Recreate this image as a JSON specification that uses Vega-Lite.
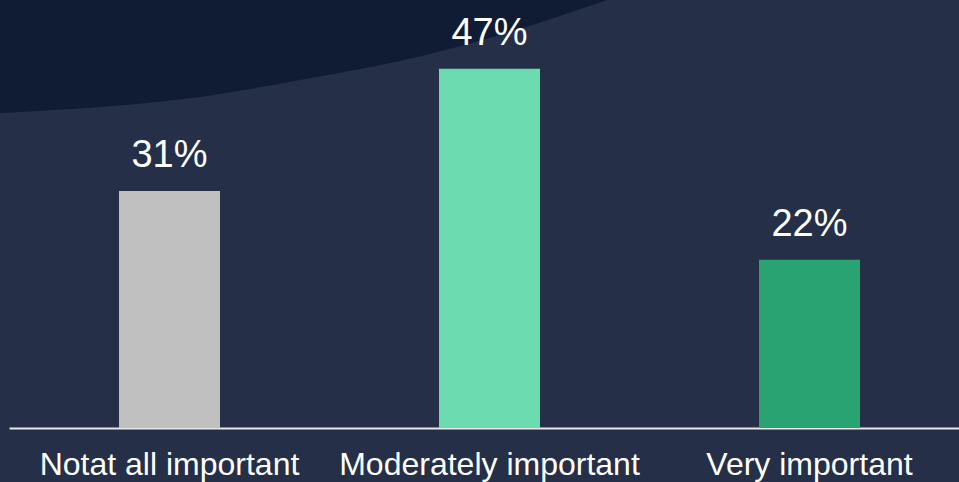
{
  "$schema": "https://vega.github.io/schema/vega-lite/v6.json",
  "width": 950,
  "height": 428,
  "autosize": {"type": "none"},
  "padding": {"left": 9, "top": 0, "right": 0, "bottom": 54},
  "background": "#252f48",
  "config": {"view": {"stroke": null}},
  "datasets": {
    "bars": [
      {"category": "Notat all important", "value": 31, "label": "31%"},
      {"category": "Moderately important", "value": 47, "label": "47%"},
      {"category": "Very important", "value": 22, "label": "22%"}
    ],
    "curve": [
      {"cx": 0, "cy": 113},
      {"cx": 100, "cy": 107},
      {"cx": 200, "cy": 97},
      {"cx": 300, "cy": 80},
      {"cx": 400, "cy": 61},
      {"cx": 510, "cy": 32},
      {"cx": 607, "cy": 0}
    ]
  },
  "layer": [
    {
      "data": {"name": "curve"},
      "mark": {"type": "area", "interpolate": "monotone", "color": "#101c33", "clip": false},
      "encoding": {
        "x": {"field": "cx", "type": "quantitative", "scale": {"domain": [9, 959], "nice": false, "zero": false}, "axis": null},
        "y": {"field": "cy", "type": "quantitative", "scale": {"domain": [0, 428], "reverse": true, "nice": false}, "axis": null},
        "y2": {"datum": 0}
      }
    },
    {
      "data": {"name": "bars"},
      "encoding": {
        "x": {
          "field": "category",
          "type": "nominal",
          "sort": null,
          "scale": {"paddingInner": 0.684375, "paddingOuter": 0.3265625, "align": 0.5263},
          "axis": {
            "title": null,
            "labelAngle": 0,
            "labelLimit": 0,
            "domain": true,
            "domainColor": "#e8e8e8",
            "domainWidth": 2,
            "ticks": false,
            "tickSize": 0,
            "grid": false,
            "labelColor": "#ffffff",
            "labelFont": "Liberation Sans",
            "labelFontSize": 32,
            "labelPadding": 46,
            "labelBaseline": "alphabetic"
          }
        },
        "y": {"field": "value", "type": "quantitative", "scale": {"domain": [0, 56], "nice": false}, "axis": null}
      },
      "layer": [
        {
          "mark": {"type": "bar"},
          "encoding": {
            "color": {
              "field": "category",
              "type": "nominal",
              "scale": {"domain": ["Notat all important", "Moderately important", "Very important"], "range": ["#c0c0c0", "#6cdcb0", "#2aa373"]},
              "legend": null
            }
          }
        },
        {
          "mark": {"type": "text", "dy": -24, "baseline": "alphabetic", "color": "#ffffff", "font": "Liberation Sans", "fontSize": 38},
          "encoding": {"text": {"field": "label"}}
        }
      ]
    }
  ],
  "resolve": {"scale": {"x": "independent", "y": "independent"}}
}
